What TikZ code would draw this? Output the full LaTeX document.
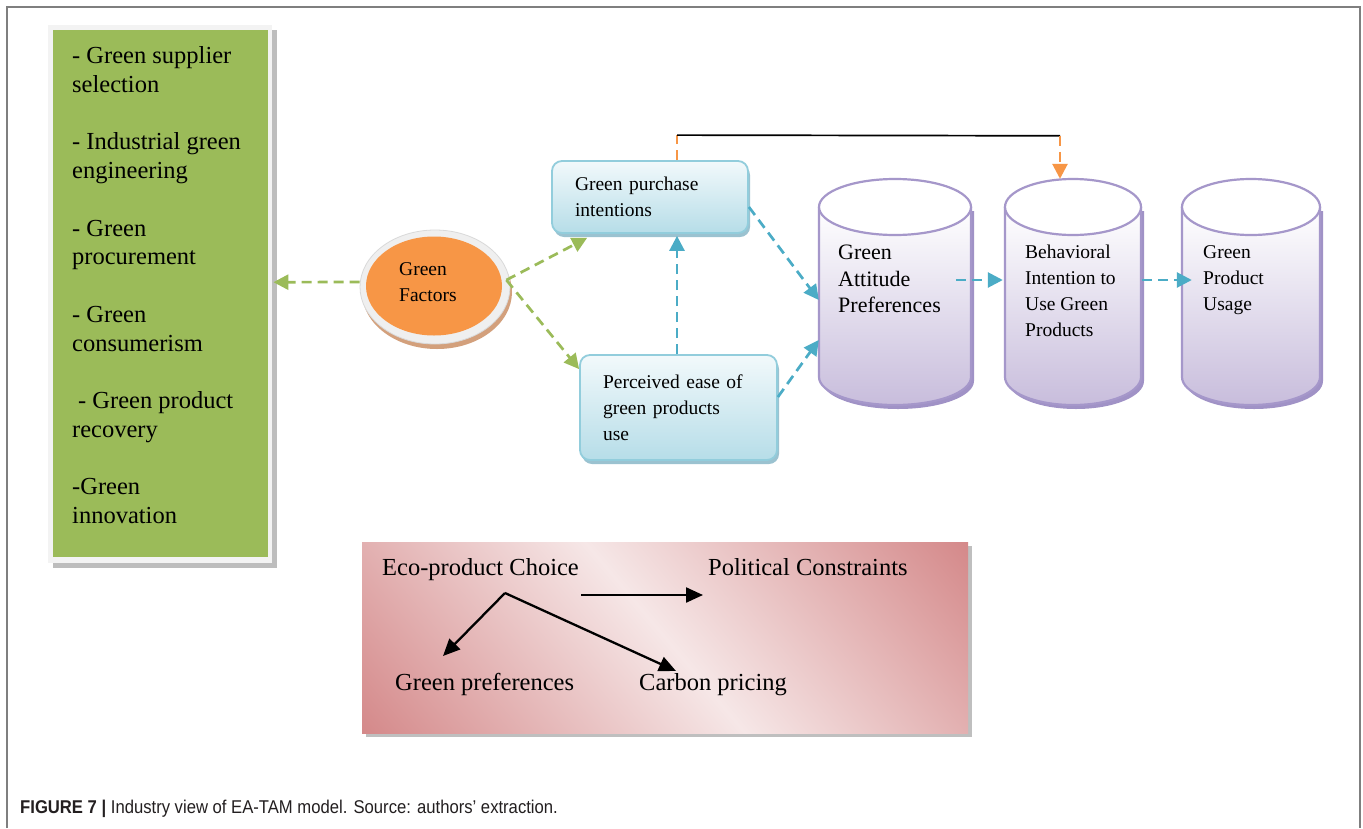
\documentclass[tikz,border=0pt]{standalone}
\usepackage{fontspec}
\setmainfont{Liberation Serif}
\newfontfamily\capfont{Liberation Sans}
\usetikzlibrary{arrows.meta,shadows,shapes.geometric,calc}
\definecolor{gfill}{HTML}{9BBB59}
\definecolor{gframe}{HTML}{F3F3F3}
\definecolor{gshadow}{HTML}{BDBDBD}
\definecolor{oran}{HTML}{F79646}
\definecolor{ringc}{HTML}{EFEFEF}
\definecolor{tanc}{HTML}{D3A07C}
\definecolor{bluea}{HTML}{4BACC6}
\definecolor{bbord}{HTML}{92CDDC}
\definecolor{btop}{HTML}{F2F9FB}
\definecolor{bbot}{HTML}{B6DDE8}
\definecolor{bshad}{HTML}{9BC2D0}
\definecolor{cbord}{HTML}{A597CA}
\definecolor{cbot}{HTML}{C8BDDC}
\definecolor{cshad}{HTML}{A092C6}
\definecolor{pinkd}{HTML}{D48889}
\definecolor{pinkl}{HTML}{F6E7E7}
\definecolor{framec}{HTML}{7F7F7F}
\definecolor{capc}{HTML}{231F20}
\newcommand\gtxt{\fontsize{24.5}{28.75}\selectfont}
\newcommand\btxt{\fontsize{19.5}{26}\selectfont}
\newcommand\ctxt{\fontsize{22}{26.5}\selectfont}
\newcommand\ptxt{\fontsize{24.5}{28}\selectfont}
\newcommand\cylshape[4]{%
  \pgfmathsetmacro\cylrx{(#2-#1)/2}%
  \pgfmathsetmacro\cylct{#3+28}%
  \pgfmathsetmacro\cylcb{#4-28}%
  \pgfmathsetmacro\cylcx{(#1+#2)/2}%
  \begin{scope}[shift={(3,4)}]
    \fill[cshad] (#1,\cylct) -- (#1,\cylcb) arc[start angle=180,end angle=360,x radius=\cylrx pt,y radius=28pt] -- (#2,\cylct) -- cycle;
  \end{scope}
  \shade[top color=white, bottom color=cbot] (#1,\cylct) -- (#1,\cylcb) arc[start angle=180,end angle=360,x radius=\cylrx pt,y radius=28pt] -- (#2,\cylct) -- cycle;
  \draw[cylline] (#1,\cylct) -- (#1,\cylcb) arc[start angle=180,end angle=360,x radius=\cylrx pt,y radius=28pt] -- (#2,\cylct);
  \filldraw[cylline, fill=white] (\cylcx,\cylct) ellipse[x radius=\cylrx pt,y radius=28pt];
}
\begin{document}
\begin{tikzpicture}[x=1pt,y=-1pt,
  garrow/.style={draw=gfill, line width=2.7pt, dash pattern=on 10pt off 6pt, -{Triangle[length=15pt,width=15pt,fill=gfill]}},
  barrow/.style={draw=bluea, line width=2.7pt, dash pattern=on 10pt off 6pt, -{Triangle[length=15pt,width=15pt,fill=bluea]}},
  oarrow/.style={draw=oran, line width=2.7pt, dash pattern=on 10pt off 6pt, -{Triangle[length=15pt,width=15pt,fill=oran]}},
  oline/.style={draw=oran, line width=2.7pt, dash pattern=on 10pt off 6pt},
  parrow/.style={draw=black, line width=2.3pt, -{Triangle[length=17pt,width=15pt]}},
  cylline/.style={draw=cbord, line width=2.2pt},
  bbox/.style={rounded corners=10pt, draw=bbord, line width=1.8pt, top color=btop, bottom color=bbot,
    drop shadow={shadow xshift=2pt,shadow yshift=-4pt,fill=bshad,opacity=1},
    font=\btxt, align=left, inner xsep=23pt, inner ysep=0pt},
  txt/.style={inner sep=0pt, align=left}
]
\useasboundingbox (0,0) rectangle (1363,828);
\fill[white] (0,0) rectangle (1363,828);
% frame
\draw[framec, line width=1.6pt] (7,828) -- (7,7) -- (1360,7) -- (1360,828);

% green list box
\fill[gshadow] (53,30) rectangle (277,568);
\fill[gframe] (48,25) rectangle (272,563);
\node[fill=gfill, inner sep=0, minimum width=215pt, minimum height=527pt, anchor=north west] (gbox) at (53,30) {};
\node[txt, font=\gtxt, anchor=north west] (glist) at (72,46.3)
 {- Green supplier\\ selection\\[28.75pt] - Industrial green\\ engineering\\[28.75pt] - Green\\ procurement\\[28.75pt] - Green\\ consumerism\\[28.75pt] \hspace*{6pt}- Green product\\ recovery\\[28.75pt] -Green\\ innovation};

% green factors
\fill[tanc] (437,292) ellipse[x radius=75pt,y radius=57pt];
\node[ellipse, fill=ringc, draw=gray!30, line width=0.8pt, inner sep=0, minimum width=150pt, minimum height=114pt] (gf) at (435,287) {};
\fill[oran] (434,286) ellipse[x radius=68pt,y radius=49.5pt];
\node[txt, font=\btxt, anchor=north west] (gft) at (399,262.8) {Green\\Factors};

% blue boxes
\node[bbox, minimum width=196pt, minimum height=72pt, text width=150pt] (gpi) at (650,197) {Green purchase\\intentions};
\node[bbox, minimum width=197pt, minimum height=105pt, text width=151pt] (pe) at (678.5,407.5) {Perceived ease of\\green products\\use};

% cylinders
\cylshape{819}{971}{179}{405}
\cylshape{1005}{1141}{179}{405}
\cylshape{1182}{1320}{179}{405}
\node[inner sep=0, minimum width=152pt, minimum height=226pt] (cyl1) at (895,292) {};
\node[inner sep=0, minimum width=136pt, minimum height=226pt] (cyl2) at (1073,292) {};
\node[inner sep=0, minimum width=138pt, minimum height=226pt] (cyl3) at (1251,292) {};
\node[txt, font=\ctxt, anchor=north west] (c1t) at (838,245.1) {Green\\Attitude\\Preferences};
\node[txt, font=\btxt, anchor=north west] (c2t) at (1025,244.7) {Behavioral\\Intention to\\Use Green\\Products};
\node[txt, font=\btxt, anchor=north west] (c3t) at (1203,245.8) {Green\\Product\\Usage};

% connectors (top part)
\draw[garrow] ([yshift=5pt]gf.west) -- ([xshift=5pt,yshift=11.5pt]gbox.east);
\coordinate (gfr) at ([xshift=-4pt,yshift=7pt]gf.east);
\draw[garrow] (gfr) -- ([xshift=36pt,yshift=-4pt]gpi.south west);
\draw[garrow] (gfr) -- ([yshift=-15pt]pe.north west);
\coordinate (bt) at ([xshift=27pt,yshift=-2pt]gpi.south);
\draw[barrow] (pe.north -| bt) -- (bt);
\draw[barrow] ([yshift=-10pt]gpi.east) -- ([yshift=-8pt]cyl1.west);
\draw[barrow] ([yshift=10.5pt]pe.east) -- ([yshift=-48pt]cyl1.west);
\draw[barrow] ([xshift=-15pt,yshift=12pt]cyl1.east) -- ([xshift=-2pt,yshift=12pt]cyl2.west);
\draw[barrow] ([xshift=1pt,yshift=12pt]cyl2.east) -- ([xshift=10pt,yshift=12pt]cyl3.west);
\coordinate (tl) at ($(gpi.north)+(27,-25)$);
\coordinate (tr) at ($(cyl2.north)+(-13,-43)$);
\draw[oline] (tl |- gpi.north) -- (tl);
\draw[black, line width=1.7pt] (tl) -- (tr);
\draw[oarrow] (tr) -- (tr |- cyl2.north);

% pink box
\fill[gray!50] (366,546) rectangle (972,737);
\begin{scope}
  \clip (362,542) rectangle (968,733);
  \shade[transform canvas={rotate around={40:(665,637.5)}}, left color=pinkd, right color=pinkd, middle color=pinkl]
    (370,342.5) rectangle (960,932.5);
\end{scope}
\node[inner sep=0, minimum width=606pt, minimum height=191pt, anchor=north west] (pbox) at (362,542) {};
\node[txt, font=\ptxt, anchor=base west] (eco) at (382,575) {Eco-product Choice};
\node[txt, font=\ptxt, anchor=base west] (pol) at (708,575) {Political Constraints};
\node[txt, font=\ptxt, anchor=base west] (gpref) at (395,690) {Green preferences};
\node[txt, font=\ptxt, anchor=base west] (carb) at (639,690) {Carbon pricing};
\draw[parrow] ([xshift=2pt,yshift=-20pt]eco.base east) -- ([xshift=-5pt,yshift=-20pt]pol.base west);
\coordinate (apex) at ($(gpref.base west)+(110,-97)$);
\draw[parrow] (apex) -- ([xshift=48pt,yshift=34pt]gpref.base west);
\draw[parrow] (apex) -- ([xshift=37pt,yshift=19pt]carb.base west);

% caption
\node[inner sep=0, anchor=base west, font=\capfont\fontsize{18.5}{20}\selectfont, text=capc] (cap) at (20,813)
 {\scalebox{0.9}[1]{\textbf{FIGURE 7 |} Industry view of EA-TAM model. Source: authors’ extraction.}};
\end{tikzpicture}
\end{document}
